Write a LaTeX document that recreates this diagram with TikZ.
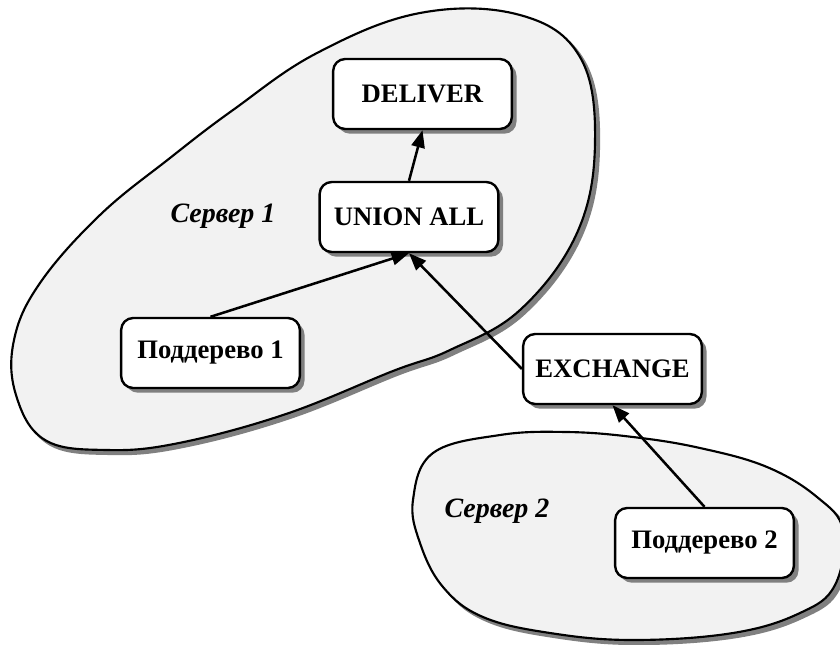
\documentclass[tikz,border=0pt]{standalone}
\usepackage{fontspec}
\setmainfont{Liberation Serif}
\usetikzlibrary{arrows.meta,shadows}
\definecolor{blobfill}{HTML}{F2F2F2}
\definecolor{shade}{HTML}{808080}

% outlines of the two server regions
\newcommand\serveronepath{plot[smooth cycle, tension=0.65] coordinates {
  (16,395) (14,340) (40,283) (100,215) (170,158) (233,110) (317,53)
  (420,13) (520,15) (580,57) (595,143) (577,233) (520,310) (450,350)
  (393,371) (286,414) (179,443) (107,450) (45,440)}}
\newcommand\servertwopath{plot[smooth cycle, tension=0.65] coordinates {
  (433,453) (500,435) (567,432) (633,437) (700,448) (767,467) (817,497)
  (843,530) (835,585) (800,613) (733,633) (633,640) (550,633) (483,617)
  (443,587) (420,543) (413,500)}}

\begin{document}
\begin{tikzpicture}[x=0.75pt,y=-0.75pt,
  opbox/.style={draw=black, line width=1.8pt, fill=white, rounded corners=9pt,
    minimum width=134pt, minimum height=52.5pt,
    font=\fontsize{20}{24}\selectfont\bfseries,
    drop shadow={shadow xshift=3.5pt, shadow yshift=-3.5pt, fill=shade, opacity=1}},
  srvlabel/.style={font=\fontsize{21}{25}\selectfont\bfseries\itshape},
  flow/.style={line width=1.9pt, -{Triangle[length=13pt,width=10pt]}},
  region/.style={fill=blobfill, draw=black, line width=1.6pt},
  regionshadow/.style={fill=shade, draw=shade, line width=1.6pt}]

\clip (0,0) rectangle (840,644);

% server regions with their shadows
\begin{scope}[shift={(4,4)}]
  \draw[regionshadow] \serveronepath;
  \draw[regionshadow] \servertwopath;
\end{scope}
\draw[region] \serveronepath;
\draw[region] \servertwopath;

% region labels
\node[srvlabel] (s1) at (223,216) {Сервер 1};
\node[srvlabel] (s2) at (497,511) {Сервер 2};

% operator boxes
\node[opbox] (deliver) at (422.5,94) {DELIVER};
\node[opbox] (union) at (409,217) {UNION ALL};
\node[opbox] (sub1) at (210.5,353) {Поддерево 1};
\node[opbox] (exch) at (612.5,369) {EXCHANGE};
\node[opbox] (sub2) at (704.5,543) {Поддерево 2};

% data flow
\draw[flow] (union.north) -- (deliver.south);
\draw[flow] (sub1.north) -- (union.south);
\draw[flow] (exch.west) -- (union.south);
\draw[flow] (sub2.north) -- (exch.south);
\end{tikzpicture}
\end{document}
